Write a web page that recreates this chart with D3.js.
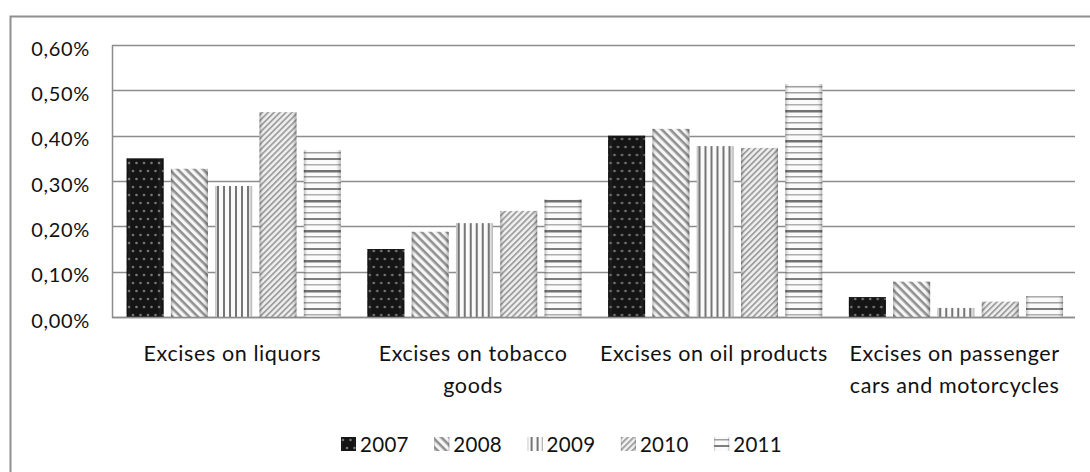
<!DOCTYPE html>
<html>
<head>
<meta charset="utf-8">
<script src="https://cdn.jsdelivr.net/npm/d3@7"></script>
<style>
  html, body { margin: 0; padding: 0; background: #fff; }
  svg { display: block; }
  text { font-family: Lato, "Open Sans", sans-serif; fill: #111; }
</style>
</head>
<body>
<svg id="chart" width="1090" height="472"></svg>
<script>
// Excise revenue as share of GDP, by excise type and year
const categories = [
  "Excises on liquors",
  "Excises on tobacco goods",
  "Excises on oil products",
  "Excises on passenger cars and motorcycles"
];
const years = ["2007", "2008", "2009", "2010", "2011"];
// values in percent, one array per year, ordered as categories
const values2007 = [0.35, 0.15, 0.40, 0.044];
const values2008 = [0.327, 0.188, 0.415, 0.078];
const values2009 = [0.289, 0.207, 0.377, 0.02];
const values2010 = [0.452, 0.234, 0.373, 0.034];
const values2011 = [0.368, 0.26, 0.514, 0.046];
const seriesValues = [values2007, values2008, values2009, values2010, values2011];
const yTicks = [0, 0.1, 0.2, 0.3, 0.4, 0.5, 0.6];

const svg = d3.select("#chart");
const W = 1090, H = 472;
const plot = { left: 112, right: 1075, top: 45, bottom: 317 };
const gridColor = "#8c8c8c";

// ---------- fill patterns ----------
const defs = svg.append("defs");

// 2007: black with staggered grey dots
const p07 = defs.append("pattern").attr("id", "pat2007")
  .attr("patternUnits", "userSpaceOnUse").attr("width", 15).attr("height", 16);
p07.append("rect").attr("width", 15).attr("height", 16).attr("fill", "#080808");
[[2, 3], [9.5, 3], [6, 11], [13.5, 11]].forEach(([cx, cy]) =>
  p07.append("circle").attr("cx", cx).attr("cy", cy).attr("r", 1.3).attr("fill", "#707070"));

// 2008: backward diagonal stripes (top-left to bottom-right)
const p08 = defs.append("pattern").attr("id", "pat2008")
  .attr("patternUnits", "userSpaceOnUse").attr("width", 6).attr("height", 6)
  .attr("patternTransform", "rotate(45)");
p08.append("rect").attr("width", 6).attr("height", 6).attr("fill", "#f6f6f6");
p08.append("rect").attr("width", 6).attr("height", 2.6).attr("fill", "#8a8a8a");

// 2009: vertical stripes
const p09 = defs.append("pattern").attr("id", "pat2009")
  .attr("patternUnits", "userSpaceOnUse").attr("width", 6).attr("height", 6);
p09.append("rect").attr("width", 6).attr("height", 6).attr("fill", "#fafafa");
p09.append("rect").attr("x", 3).attr("width", 2).attr("height", 6).attr("fill", "#6e6e6e");

// 2010: forward diagonal stripes, finer and lighter
const p10 = defs.append("pattern").attr("id", "pat2010")
  .attr("patternUnits", "userSpaceOnUse").attr("width", 4.2).attr("height", 4.2)
  .attr("patternTransform", "rotate(-45)");
p10.append("rect").attr("width", 4.2).attr("height", 4.2).attr("fill", "#efefef");
p10.append("rect").attr("width", 4.2).attr("height", 1.8).attr("fill", "#9a9a9a");

// 2011: horizontal lines of varying weight
const p11 = defs.append("pattern").attr("id", "pat2011")
  .attr("patternUnits", "userSpaceOnUse").attr("width", 10).attr("height", 30);
p11.append("rect").attr("width", 10).attr("height", 30).attr("fill", "#fbfbfb");
[[2, 1.5, "#9a9a9a"], [8, 2, "#777"], [14, 1.5, "#aaa"], [20, 2.5, "#6a6a6a"], [26, 1.5, "#999"]]
  .forEach(([yy, h, c]) => p11.append("rect").attr("y", yy).attr("width", 10).attr("height", h).attr("fill", c));

// soft bevel shading across each column
const bevel = defs.append("linearGradient").attr("id", "bevel")
  .attr("x1", 0).attr("x2", 1).attr("y1", 0).attr("y2", 0);
bevel.append("stop").attr("offset", 0).attr("stop-color", "#000").attr("stop-opacity", 0.28);
bevel.append("stop").attr("offset", 0.12).attr("stop-color", "#fff").attr("stop-opacity", 0.05);
bevel.append("stop").attr("offset", 0.85).attr("stop-color", "#fff").attr("stop-opacity", 0.05);
bevel.append("stop").attr("offset", 1).attr("stop-color", "#000").attr("stop-opacity", 0.3);

const fills = ["url(#pat2007)", "url(#pat2008)", "url(#pat2009)", "url(#pat2010)", "url(#pat2011)"];

// ---------- outer chart border ----------
svg.append("rect")
  .attr("x", 10.5).attr("y", 16.5).attr("width", W + 20).attr("height", H + 20)
  .attr("fill", "none").attr("stroke", "#8f8f8f").attr("stroke-width", 2);

// ---------- scales ----------
const x0 = d3.scaleBand().domain(categories).range([plot.left, plot.right]).padding(0);
const x1 = d3.scaleBand().domain(years).range([0, x0.bandwidth()])
  .paddingInner(0.165).paddingOuter(0.3).align(0.55);
const y = d3.scaleLinear().domain([0, 0.6]).range([plot.bottom, plot.top]);

// ---------- gridlines ----------
svg.append("g").selectAll("line").data(yTicks).join("line")
  .attr("x1", plot.left).attr("x2", plot.right)
  .attr("y1", d => Math.round(y(d)) + 0.5).attr("y2", d => Math.round(y(d)) + 0.5)
  .attr("stroke", gridColor).attr("stroke-width", 1.5);

// value axis line
svg.append("line")
  .attr("x1", plot.left + 0.5).attr("x2", plot.left + 0.5)
  .attr("y1", plot.top).attr("y2", plot.bottom + 1)
  .attr("stroke", gridColor).attr("stroke-width", 1.5);

// y tick labels
const fmt = v => d3.format(".2f")(v).replace(".", ",") + "%";
svg.append("g").selectAll("text").data(yTicks).join("text")
  .attr("x", 90).attr("y", d => y(d) + 2.5)
  .attr("text-anchor", "end").attr("dominant-baseline", "central")
  .attr("font-size", 20).attr("letter-spacing", 0.7)
  .text(fmt);

// ---------- bars ----------
const groups = svg.append("g").selectAll("g").data(categories).join("g")
  .attr("transform", d => `translate(${x0(d)},0)`);

groups.each(function (cat, ci) {
  const g = d3.select(this);
  years.forEach((yr, si) => {
    const v = seriesValues[si][ci];
    const bx = x1(yr), bw = x1.bandwidth();
    g.append("rect")
      .attr("x", bx).attr("y", y(v)).attr("width", bw).attr("height", y(0) - y(v))
      .attr("fill", fills[si]);
    g.append("rect")
      .attr("x", bx).attr("y", y(v)).attr("width", bw).attr("height", y(0) - y(v))
      .attr("fill", "url(#bevel)");
  });
});

// category axis line
svg.append("line")
  .attr("x1", plot.left).attr("x2", plot.right)
  .attr("y1", plot.bottom + 0.5).attr("y2", plot.bottom + 0.5)
  .attr("stroke", gridColor).attr("stroke-width", 1.5);

// ---------- category labels (wrapped to the band width) ----------
const catLabels = svg.append("g").selectAll("text").data(categories).join("text")
  .attr("x", d => x0(d) + x0.bandwidth() / 2)
  .attr("y", 361)
  .attr("text-anchor", "middle").attr("font-size", 21.5).attr("letter-spacing", 0.6);

catLabels.each(function (d) {
  const t = d3.select(this);
  const words = d.split(" ");
  const maxW = x0.bandwidth() - 2;
  let line = [];
  let tspan = t.append("tspan").attr("x", t.attr("x")).attr("dy", 0);
  words.forEach(w => {
    line.push(w);
    tspan.text(line.join(" "));
    if (tspan.node().getComputedTextLength() > maxW && line.length > 1) {
      line.pop();
      tspan.text(line.join(" "));
      line = [w];
      tspan = t.append("tspan").attr("x", t.attr("x")).attr("dy", 32).text(w);
    }
  });
});

// ---------- legend ----------
const legendX = d3.scaleBand().domain(years).range([341, 807.5]);
const legend = svg.append("g").selectAll("g").data(years).join("g")
  .attr("transform", d => `translate(${legendX(d)},437)`);
legend.append("rect").attr("width", 15).attr("height", 14)
  .attr("fill", (d, i) => fills[i]);
legend.append("rect").attr("width", 15).attr("height", 14)
  .attr("fill", "url(#bevel)");
legend.append("text")
  .attr("x", 19).attr("y", 14.5)
  .attr("font-size", 20.5).attr("letter-spacing", 0.3)
  .text(d => d);
</script>
</body>
</html>
